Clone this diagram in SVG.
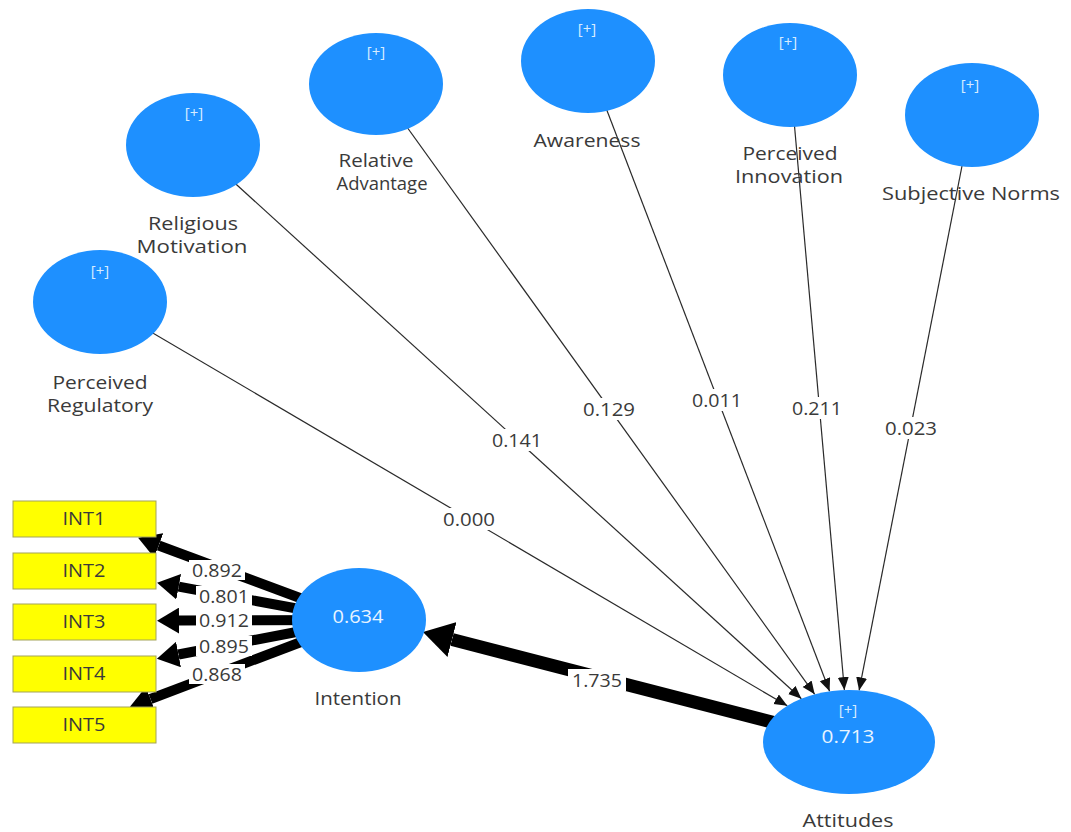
<svg xmlns="http://www.w3.org/2000/svg" width="1071" height="832" viewBox="0 0 1071 832">
<defs>
<style>
.lv{fill:#1e90ff;}
.ind{fill:#ffff00;stroke:#a3a35a;stroke-width:1;}
.lbl{font-family:"Open Sans","Noto Sans",sans-serif;font-size:18px;fill:#3a3a3a;text-anchor:middle;}
.plus{font-family:"Open Sans","Noto Sans",sans-serif;font-size:15px;fill:#d6ecff;text-anchor:middle;}
.r2{font-family:"Open Sans","Noto Sans",sans-serif;font-size:18px;fill:#e8f4ff;text-anchor:middle;}
.coef{font-family:"Open Sans","Noto Sans",sans-serif;font-size:18px;fill:#3a3a3a;text-anchor:middle;}
.thin{stroke:#2a2a2a;stroke-width:1.2;fill:none;}
.load{stroke:#000;stroke-width:10;fill:none;}
.path{stroke:#000;stroke-width:13;fill:none;}
.bg{fill:#fff;}
</style>
<marker id="ah" markerUnits="userSpaceOnUse" markerWidth="14" markerHeight="12" refX="13" refY="5.5" orient="auto">
<path d="M0,0 L13,5.5 L0,11 z" fill="#111"/>
</marker>
<marker id="ahL" markerUnits="userSpaceOnUse" markerWidth="24" markerHeight="26" refX="0" refY="13" orient="auto">
<path d="M0,0 L22,13 L0,26 z" fill="#000"/>
</marker>
<marker id="ahP" markerUnits="userSpaceOnUse" markerWidth="32" markerHeight="36" refX="0" refY="18" orient="auto">
<path d="M0,0 L30,18 L0,36 z" fill="#000"/>
</marker>
</defs>
<rect width="1071" height="832" fill="#fff"/>

<g id="connectors">
<line class="thin" x1="100" y1="302" x2="787.3" y2="705.8" marker-end="url(#ah)"/>
<line class="thin" x1="193" y1="145" x2="801.4" y2="698.7" marker-end="url(#ah)"/>
<line class="thin" x1="376" y1="84" x2="814.7" y2="694.3" marker-end="url(#ah)"/>
<line class="thin" x1="588" y1="61" x2="829.6" y2="691.3" marker-end="url(#ah)"/>
<line class="thin" x1="790" y1="75" x2="844.4" y2="690.1" marker-end="url(#ah)"/>
<line class="thin" x1="972" y1="115" x2="859.1" y2="690.4" marker-end="url(#ah)"/>
<line class="path" x1="849" y1="742" x2="452" y2="639.5" marker-end="url(#ahP)"/>
<line class="load" x1="359" y1="620" x2="158.7" y2="545.5" marker-end="url(#ahL)"/>
<line class="load" x1="359" y1="620" x2="178.7" y2="586.7" marker-end="url(#ahL)"/>
<line class="load" x1="359" y1="620" x2="179" y2="620.6" marker-end="url(#ahL)"/>
<line class="load" x1="359" y1="620" x2="178.5" y2="654.5" marker-end="url(#ahL)"/>
<line class="load" x1="359" y1="620" x2="150.5" y2="699" marker-end="url(#ahL)"/>

<rect class="bg" x="440" y="508" width="58" height="22"/>
<text class="coef" x="469" y="526" textLength="52" lengthAdjust="spacingAndGlyphs">0.000</text>
<rect class="bg" x="489" y="429" width="56" height="22"/>
<text class="coef" x="517" y="447" textLength="50" lengthAdjust="spacingAndGlyphs">0.141</text>
<rect class="bg" x="580" y="398" width="58" height="22"/>
<text class="coef" x="609" y="416" textLength="52" lengthAdjust="spacingAndGlyphs">0.129</text>
<rect class="bg" x="689" y="389" width="56" height="22"/>
<text class="coef" x="717" y="407" textLength="50" lengthAdjust="spacingAndGlyphs">0.011</text>
<rect class="bg" x="789" y="397" width="56" height="22"/>
<text class="coef" x="817" y="415" textLength="50" lengthAdjust="spacingAndGlyphs">0.211</text>
<rect class="bg" x="882" y="417" width="58" height="22"/>
<text class="coef" x="911" y="435" textLength="52" lengthAdjust="spacingAndGlyphs">0.023</text>
<rect class="bg" x="568" y="669" width="58" height="22"/>
<text class="coef" x="597" y="687" textLength="50" lengthAdjust="spacingAndGlyphs">1.735</text>

<rect class="bg" x="189" y="560" width="56" height="20"/>
<text class="coef" x="217" y="577" textLength="50" lengthAdjust="spacingAndGlyphs">0.892</text>
<rect class="bg" x="196" y="586" width="56" height="20"/>
<text class="coef" x="224" y="603" textLength="50" lengthAdjust="spacingAndGlyphs">0.801</text>
<rect class="bg" x="196" y="610" width="56" height="20"/>
<text class="coef" x="224" y="627" textLength="50" lengthAdjust="spacingAndGlyphs">0.912</text>
<rect class="bg" x="196" y="636" width="56" height="20"/>
<text class="coef" x="224" y="653" textLength="50" lengthAdjust="spacingAndGlyphs">0.895</text>
<rect class="bg" x="189" y="664" width="56" height="20"/>
<text class="coef" x="217" y="681" textLength="50" lengthAdjust="spacingAndGlyphs">0.868</text>
</g>

<g id="perceived-regulatory">
<ellipse class="lv" cx="100" cy="302" rx="67" ry="52"/>
<text class="plus" x="100" y="276">[+]</text>
<text class="lbl" x="100" y="389" textLength="95" lengthAdjust="spacingAndGlyphs">Perceived</text>
<text class="lbl" x="100" y="412" textLength="106" lengthAdjust="spacingAndGlyphs">Regulatory</text>
</g>
<g id="religious-motivation">
<ellipse class="lv" cx="193" cy="145" rx="67" ry="52"/>
<text class="plus" x="194" y="118">[+]</text>
<text class="lbl" x="193" y="230" textLength="90" lengthAdjust="spacingAndGlyphs">Religious</text>
<text class="lbl" x="192" y="253" textLength="111" lengthAdjust="spacingAndGlyphs">Motivation</text>
</g>
<g id="relative-advantage">
<ellipse class="lv" cx="376" cy="84" rx="67" ry="51"/>
<text class="plus" x="376" y="57">[+]</text>
<text class="lbl" x="376" y="167" textLength="75" lengthAdjust="spacingAndGlyphs">Relative</text>
<text class="lbl" x="382" y="190" textLength="91" lengthAdjust="spacingAndGlyphs">Advantage</text>
</g>
<g id="awareness">
<ellipse class="lv" cx="588" cy="61" rx="67" ry="52"/>
<text class="plus" x="587" y="34">[+]</text>
<text class="lbl" x="587" y="147" textLength="107" lengthAdjust="spacingAndGlyphs">Awareness</text>
</g>
<g id="perceived-innovation">
<ellipse class="lv" cx="790" cy="75" rx="67" ry="52"/>
<text class="plus" x="788" y="47">[+]</text>
<text class="lbl" x="790" y="160" textLength="95" lengthAdjust="spacingAndGlyphs">Perceived</text>
<text class="lbl" x="789" y="183" textLength="108" lengthAdjust="spacingAndGlyphs">Innovation</text>
</g>
<g id="subjective-norms">
<ellipse class="lv" cx="972" cy="115" rx="67" ry="52"/>
<text class="plus" x="970" y="90">[+]</text>
<text class="lbl" x="971" y="200" textLength="178" lengthAdjust="spacingAndGlyphs">Subjective Norms</text>
</g>
<g id="intention">
<ellipse class="lv" cx="359" cy="620" rx="67" ry="52"/>
<text class="r2" x="358" y="623" textLength="51" lengthAdjust="spacingAndGlyphs">0.634</text>
<text class="lbl" x="358" y="705" textLength="87" lengthAdjust="spacingAndGlyphs">Intention</text>
</g>
<g id="attitudes">
<ellipse class="lv" cx="849" cy="742" rx="86" ry="52"/>
<text class="plus" x="848" y="715">[+]</text>
<text class="r2" x="848" y="743" textLength="53" lengthAdjust="spacingAndGlyphs">0.713</text>
<text class="lbl" x="848" y="827" textLength="91" lengthAdjust="spacingAndGlyphs">Attitudes</text>
</g>
<g id="int1">
<rect class="ind" x="13" y="501" width="143" height="36"/>
<text class="lbl" x="84" y="525" textLength="43" lengthAdjust="spacingAndGlyphs">INT1</text>
</g>
<g id="int2">
<rect class="ind" x="13" y="553" width="143" height="36"/>
<text class="lbl" x="84" y="577" textLength="43" lengthAdjust="spacingAndGlyphs">INT2</text>
</g>
<g id="int3">
<rect class="ind" x="13" y="604" width="143" height="36"/>
<text class="lbl" x="84" y="628" textLength="43" lengthAdjust="spacingAndGlyphs">INT3</text>
</g>
<g id="int4">
<rect class="ind" x="13" y="656" width="143" height="36"/>
<text class="lbl" x="84" y="680" textLength="43" lengthAdjust="spacingAndGlyphs">INT4</text>
</g>
<g id="int5">
<rect class="ind" x="13" y="707" width="143" height="36"/>
<text class="lbl" x="84" y="731" textLength="43" lengthAdjust="spacingAndGlyphs">INT5</text>
</g>
</svg>
